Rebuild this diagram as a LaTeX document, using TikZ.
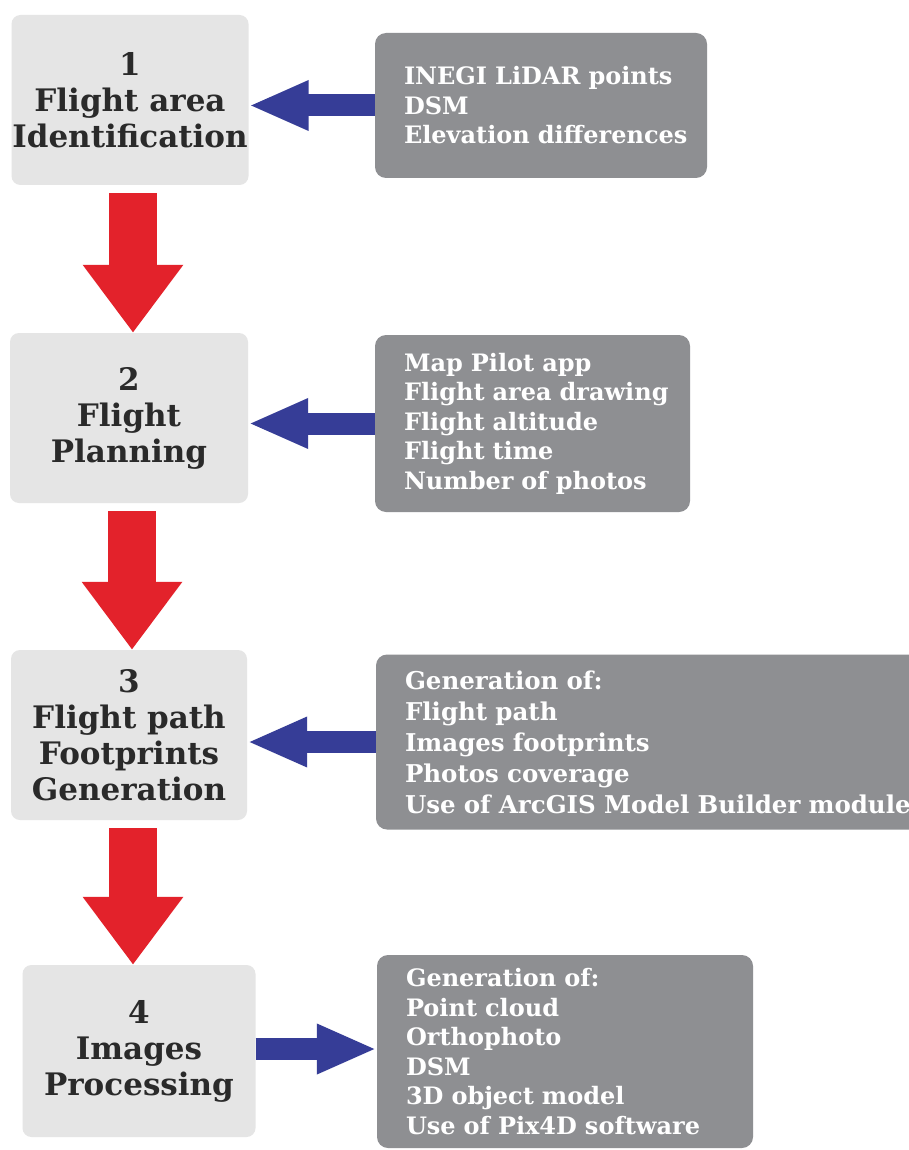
\documentclass[tikz,border=0pt]{standalone}
\usepackage{fontspec}
\setmainfont{DejaVu Serif}
\usetikzlibrary{arrows.meta}
\definecolor{lightbox}{HTML}{E5E5E5}
\definecolor{darkbox}{HTML}{8E8F92}
\definecolor{arrowblue}{HTML}{363D97}
\definecolor{arrowred}{HTML}{E3222B}
\definecolor{textdark}{HTML}{2A2A2A}
\hbadness=10000 \hfuzz=1000pt
\begin{document}
\begin{tikzpicture}[x=1pt,y=-1pt,
  stepbox/.style={fill=lightbox, rounded corners=9pt, inner sep=0pt, align=center,
    text=textdark, font=\bfseries\fontsize{31}{36}\selectfont},
  infobox/.style={fill=darkbox, rounded corners=11pt, inner xsep=29pt, inner ysep=0pt, align=left,
    text=white, font=\bfseries\fontsize{24}{29.5}\selectfont},
  redarrow/.style={draw=arrowred, line width=48pt, -{Triangle[length=68pt,width=96pt]}, shorten <=8pt},
  bluearrow/.style={draw=arrowblue, line width=22pt, -{Triangle[length=60pt,width=46pt]}}]
\useasboundingbox (0,0) rectangle (909,1150);
\fill[white] (0,0) rectangle (909,1150);

% step boxes
\node[stepbox, minimum width=237pt, minimum height=170pt] (b1) at (130,100) {1\\Flight area\\Identification};
\node[stepbox, minimum width=238pt, minimum height=170pt] (b2) at (129,418) {2\\Flight\\Planning};
\node[stepbox, minimum width=236pt, minimum height=170pt] (b3) at (129,735) {3\\Flight path\\Footprints\\Generation};
\node[stepbox, minimum width=233pt, minimum height=172pt] (b4) at (139,1051) {4\\Images\\Processing};

% info boxes
\node[infobox, minimum width=332pt, minimum height=145pt, text width=274pt] (g1) at (541,105.5)
  {\mbox{INEGI LiDAR points}\\\mbox{DSM}\\\mbox{Elevation differences}};
\node[infobox, minimum width=315pt, minimum height=177pt, text width=257pt] (g2) at (532.5,423.5)
  {\mbox{Map Pilot app}\\\mbox{Flight area drawing}\\\mbox{Flight altitude}\\\mbox{Flight time}\\\mbox{Number of photos}};
\node[infobox, minimum width=560pt, minimum height=175pt, text width=502pt,
  font=\bfseries\fontsize{24.5}{31}\selectfont] (g3) at (656,742)
  {\mbox{Generation of:}\\\mbox{Flight path}\\\mbox{Images footprints}\\\mbox{Photos coverage}\\\mbox{Use of ArcGIS Model Builder module}};
\node[infobox, minimum width=376pt, minimum height=193pt, text width=318pt] (g4) at (565,1051.5)
  {\mbox{Generation of:}\\\mbox{Point cloud}\\\mbox{Orthophoto}\\\mbox{DSM}\\\mbox{3D object model}\\\mbox{Use of Pix4D software}};

% red arrows
\draw[redarrow] ([xshift=3pt]b1.south) -- ([xshift=3pt]b1.south |- b2.north);
\draw[redarrow] ([xshift=3pt]b2.south) -- ([xshift=3pt]b2.south |- b3.north);
\draw[redarrow] ([xshift=4pt]b3.south) -- ([xshift=4pt]b3.south |- b4.north);

% blue arrows
\draw[bluearrow] (g1.west) -- (g1.west -| b1.east);
\draw[bluearrow] (g2.west) -- (g2.west -| b2.east);
\draw[bluearrow] (g3.west) -- (g3.west -| b3.east);
\draw[bluearrow] ([yshift=2pt]b4.east) -- ([yshift=2pt]b4.east -| g4.west);
\end{tikzpicture}
\end{document}
